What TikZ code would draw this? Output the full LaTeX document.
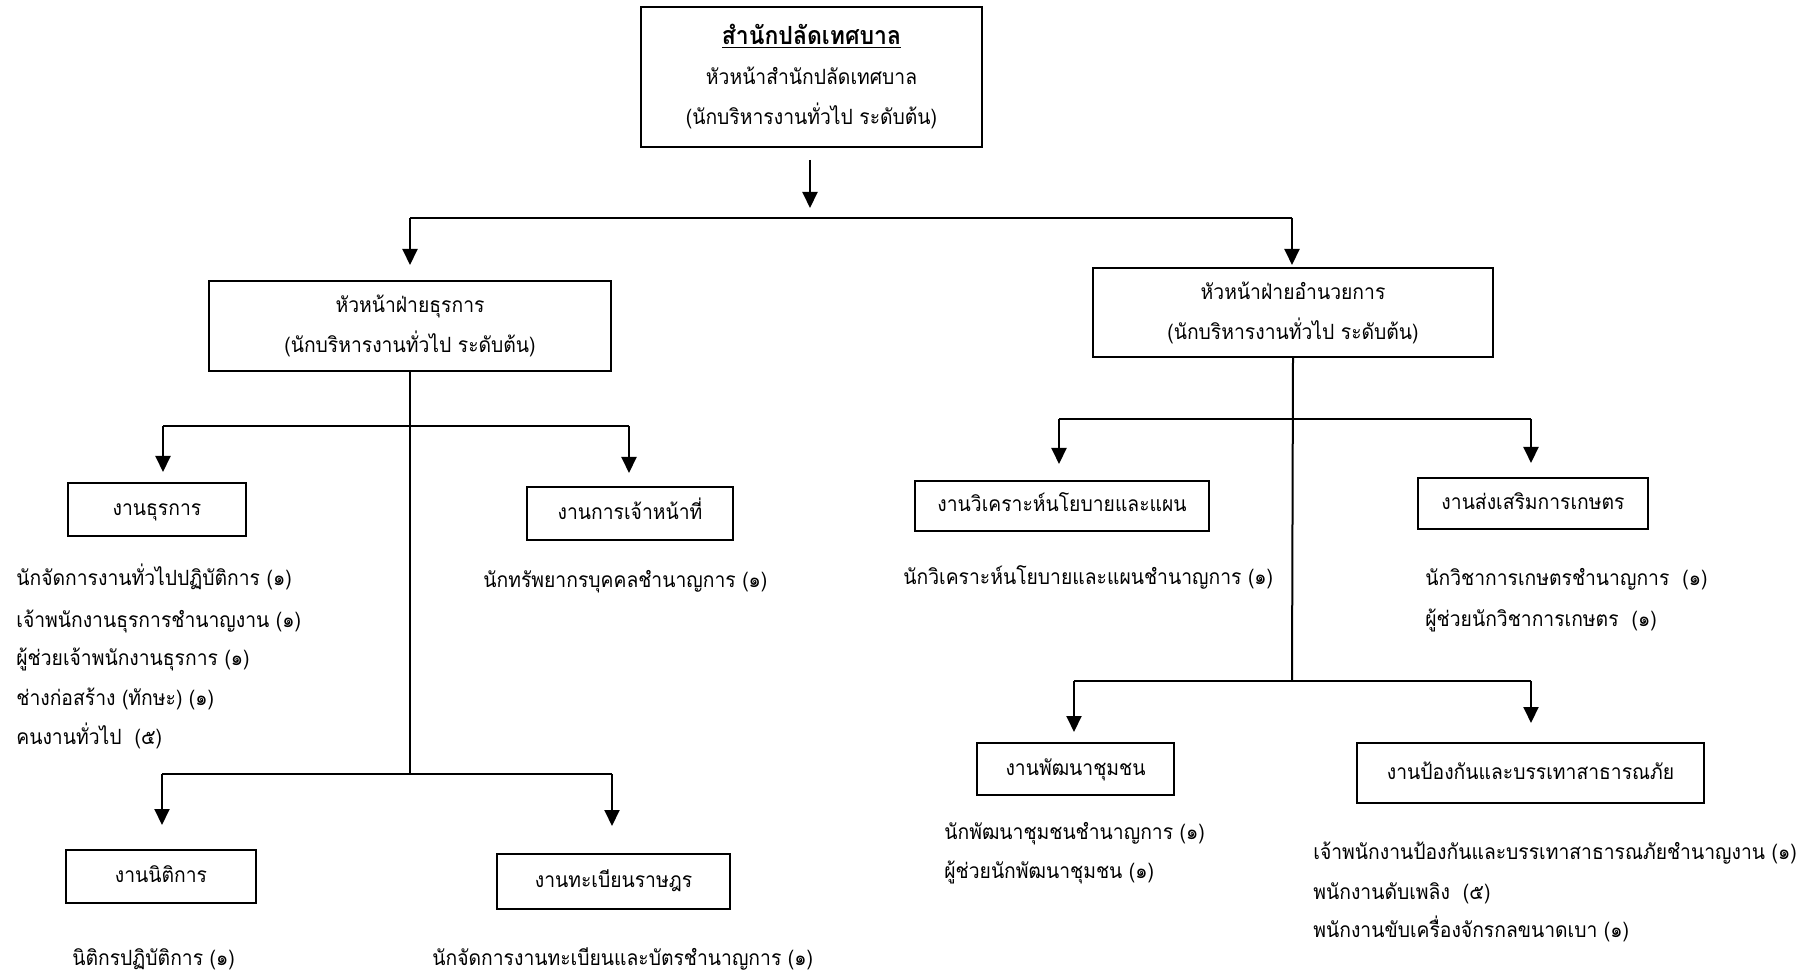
\documentclass[tikz,border=0pt]{standalone}
\usepackage{fontspec}
\setmainfont[Script=Thai,FakeStretch=0.92]{Loma}
\usetikzlibrary{arrows.meta}
\begin{document}
\begin{tikzpicture}[x=0.5pt,y=-0.5pt,
  font=\fontsize{10.5}{20}\selectfont,
  box/.style={draw,line width=1pt,inner sep=0pt,align=center,text height=9pt,text depth=3pt},
  mbox/.style={draw,line width=1pt,inner sep=0pt,align=center},
  lbl/.style={anchor=west,inner sep=0pt,text height=9pt,text depth=3pt},
  conn/.style={line width=1pt},
  arr/.style={line width=1pt,-{Triangle[length=8pt,width=7.5pt]}}]
\useasboundingbox (0,0) rectangle (1815,972);

% boxes
\node[mbox,minimum width=170.5pt,minimum height=70pt] (top) at (811.5,77)
  {{\fontsize{12.5}{20}\selectfont\underline{\textbf{สำนักปลัดเทศบาล}}}\\หัวหน้าสำนักปลัดเทศบาล\\(นักบริหารงานทั่วไป ระดับต้น)};
\node[mbox,minimum width=201pt,minimum height=45pt] (hL) at (410,326)
  {หัวหน้าฝ่ายธุรการ\\(นักบริหารงานทั่วไป ระดับต้น)};
\node[mbox,minimum width=200pt,minimum height=44.5pt] (hR) at (1293,312.5)
  {หัวหน้าฝ่ายอำนวยการ\\(นักบริหารงานทั่วไป ระดับต้น)};
\node[box,minimum width=89pt,minimum height=26.5pt] (b1) at (157,509.5) {งานธุรการ};
\node[box,minimum width=103pt,minimum height=26.5pt] (b2) at (630,513.5) {งานการเจ้าหน้าที่};
\node[box,minimum width=95pt,minimum height=26.5pt] (b3) at (161,876.5) {งานนิติการ};
\node[box,minimum width=116.5pt,minimum height=27.5pt] (b4) at (613.5,881.5) {งานทะเบียนราษฎร};
\node[box,minimum width=147pt,minimum height=25pt] (b5) at (1062,506) {งานวิเคราะห์นโยบายและแผน};
\node[box,minimum width=115pt,minimum height=25.5pt] (b6) at (1533,503.5) {งานส่งเสริมการเกษตร};
\node[box,minimum width=98.5pt,minimum height=26pt] (b7) at (1075.5,769) {งานพัฒนาชุมชน};
\node[box,minimum width=173.5pt,minimum height=30pt] (b8) at (1530.5,773) {งานป้องกันและบรรเทาสาธารณภัย};

% staff lists
\node[lbl] (l1a) at (16,580) {นักจัดการงานทั่วไปปฏิบัติการ (๑)};
\node[lbl] (l1b) at (16,621) {เจ้าพนักงานธุรการชำนาญงาน (๑)};
\node[lbl] (l1c) at (16,660) {ผู้ช่วยเจ้าพนักงานธุรการ (๑)};
\node[lbl] (l1d) at (16,699) {ช่างก่อสร้าง (ทักษะ) (๑)};
\node[lbl] (l1e) at (16,738) {คนงานทั่วไป\ \ (๕)};
\node[lbl] (l2a) at (483,582) {นักทรัพยากรบุคคลชำนาญการ (๑)};
\node[lbl] (l3a) at (72,959) {นิติกรปฏิบัติการ (๑)};
\node[lbl] (l4a) at (432,959) {นักจัดการงานทะเบียนและบัตรชำนาญการ (๑)};
\node[lbl] (l5a) at (903,579) {นักวิเคราะห์นโยบายและแผนชำนาญการ (๑)};
\node[lbl] (l6a) at (1425,580) {นักวิชาการเกษตรชำนาญการ\ \ (๑)};
\node[lbl] (l6b) at (1425,620) {ผู้ช่วยนักวิชาการเกษตร\ \ (๑)};
\node[lbl] (l7a) at (944,833) {นักพัฒนาชุมชนชำนาญการ (๑)};
\node[lbl] (l7b) at (944,872) {ผู้ช่วยนักพัฒนาชุมชน (๑)};
\node[lbl] (l8a) at (1313,853) {เจ้าพนักงานป้องกันและบรรเทาสาธารณภัยชำนาญงาน (๑)};
\node[lbl] (l8b) at (1313,893) {พนักงานดับเพลิง\ \ (๕)};
\node[lbl] (l8c) at (1313,931) {พนักงานขับเครื่องจักรกลขนาดเบา (๑)};

% junction coordinates
\coordinate (t0a) at (810,160);
\coordinate (t0b) at (810,208);
\coordinate (jL) at (410,218);
\coordinate (jR) at (1292,218);
\coordinate (tL) at (410,265);
\coordinate (tR) at (1292,265);
\coordinate (vLe) at (410,774);
\coordinate (vRe) at (1292,681);
\coordinate (u1) at (163,426);
\coordinate (u2) at (629,426);
\coordinate (u1t) at (163,472);
\coordinate (u2t) at (629,473);
\coordinate (w1) at (162,774);
\coordinate (w2) at (612,774);
\coordinate (w1t) at (162,825);
\coordinate (w2t) at (612,826);
\coordinate (r1) at (1059,419);
\coordinate (r2) at (1531,419);
\coordinate (r1t) at (1059,464);
\coordinate (r2t) at (1531,463);
\coordinate (s1) at (1074,681);
\coordinate (s2) at (1531,681);
\coordinate (s1t) at (1074,732);
\coordinate (s2t) at (1531,723);

% connectors
\draw[arr] (t0a) -- (t0b);
\draw[conn] (jL) -- (jR);
\draw[arr] (jL) -- (tL);
\draw[arr] (jR) -- (tR);

\draw[conn] (hL.south) -- (vLe);
\draw[conn] (u1) -- (u2);
\draw[arr] (u1) -- (u1t);
\draw[arr] (u2) -- (u2t);
\draw[conn] (w1) -- (w2);
\draw[arr] (w1) -- (w1t);
\draw[arr] (w2) -- (w2t);

\draw[conn] (hR.south) -- (vRe);
\draw[conn] (r1) -- (r2);
\draw[arr] (r1) -- (r1t);
\draw[arr] (r2) -- (r2t);
\draw[conn] (s1) -- (s2);
\draw[arr] (s1) -- (s1t);
\draw[arr] (s2) -- (s2t);
\end{tikzpicture}
\end{document}
